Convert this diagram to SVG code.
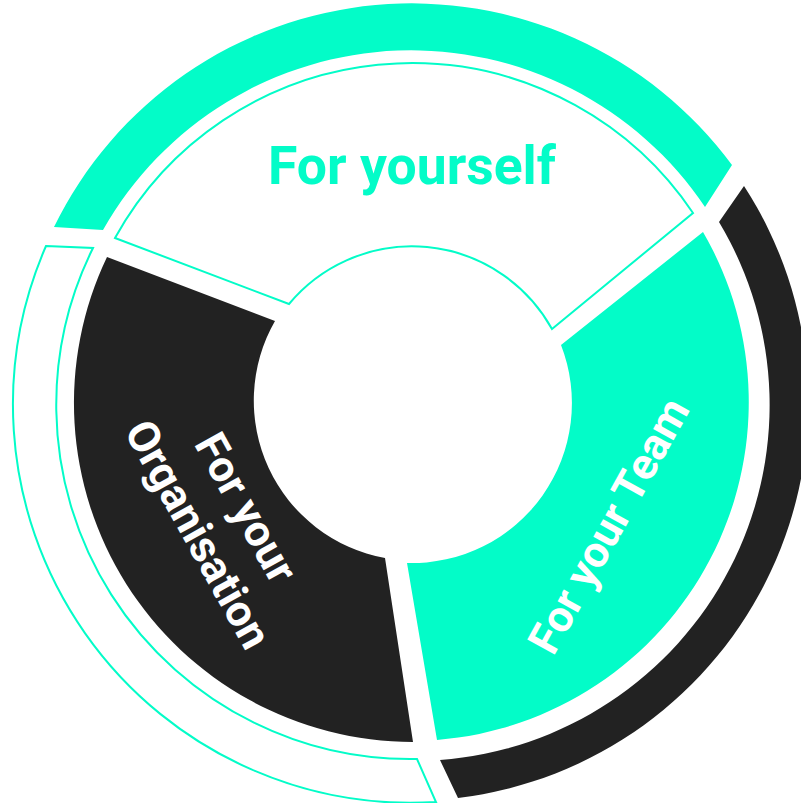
<svg xmlns="http://www.w3.org/2000/svg" width="801" height="803" viewBox="0 0 801 803">
<style>
.teal{fill:#03FCC8;}
.dark{fill:#222222;}
.outline{fill:none;stroke:#03FCC8;stroke-width:2;stroke-linejoin:miter;}
.lbl{font-family:Roboto,"Liberation Sans",sans-serif;font-weight:700;}
</style>
<rect width="801" height="803" fill="#ffffff"/>
<g id="outer-yourself">
<path class="teal" d="M54,227 A398,398 0 0,1 732,165 L705,207 A354,354 0 0,0 103,230 Z"/>
</g>
<g id="outer-team">
<path class="dark" d="M744,186 A398,398 0 0,1 458,798 L440,760 A356,356 0 0,0 719,222 Z"/>
</g>
<g id="outer-organisation">
<path class="outline" d="M46,246 L93,248 A354,354 0 0,0 417,759 L436,802 A398,398 0 0,1 46,246 Z"/>
</g>
<g id="node-yourself">
<path class="outline" d="M115,238 L289,304 A160,160 0 0,1 552,329 L693,213 A339,339 0 0,0 115,238 Z"/>
<text class="lbl" x="412" y="184" font-size="53.5" fill="#03FCC8" text-anchor="middle">For yourself</text>
</g>
<g id="node-organisation">
<path class="dark" d="M107,257 L275,321 A160,160 0 0,0 385,558 L413,742 A339,339 0 0,1 107,257 Z"/>
<g transform="translate(233,515) rotate(61)">
<text class="lbl" x="0" y="0" font-size="44" fill="#ffffff" text-anchor="middle">For your</text>
<text class="lbl" x="0" y="55" font-size="44" fill="#ffffff" text-anchor="middle">Organisation</text>
</g>
</g>
<g id="node-team">
<path class="teal" d="M703,232 L561,345 A160,160 0 0,1 407,563 L437,740 A339,339 0 0,0 703,232 Z"/>
<text class="lbl" transform="translate(622,533) rotate(-61)" x="0" y="0" font-size="44" fill="#ffffff" text-anchor="middle">For your Team</text>
</g>
<g id="connectors"></g>
</svg>
